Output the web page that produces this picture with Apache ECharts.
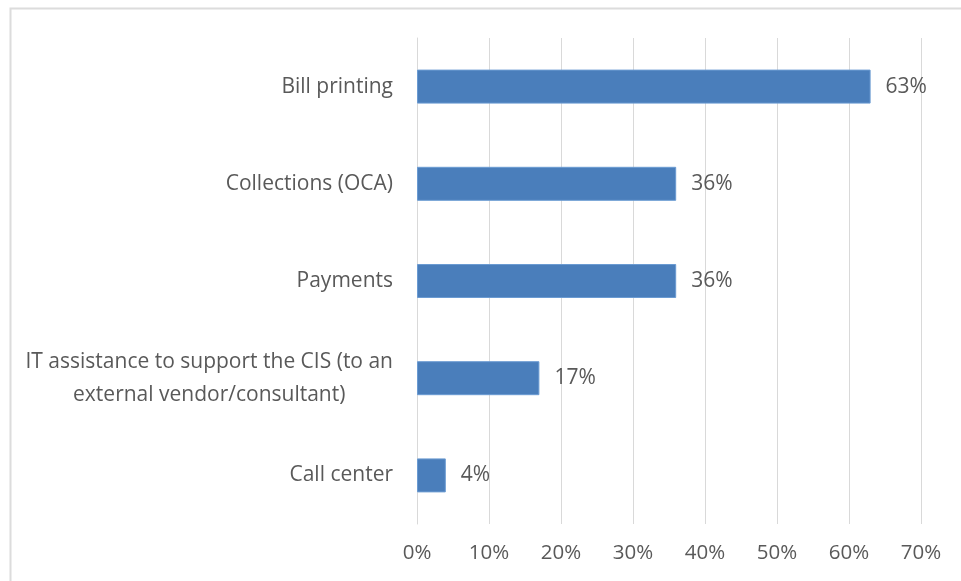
<!DOCTYPE html>
<html>
<head>
<meta charset="utf-8">
<script src="https://cdn.jsdelivr.net/npm/echarts@6/dist/echarts.min.js"></script>
<style>
  html, body { margin: 0; padding: 0; background: #ffffff; }
  #chart { width: 961px; height: 581px; }
</style>
</head>
<body>
<div id="chart"></div>
<script>
// Outsourced functions, share of respondents (%)
const categories = [
  'Bill printing',
  'Collections (OCA)',
  'Payments',
  'IT assistance to support the CIS (to an\nexternal vendor/consultant)',
  'Call center'
];
const values = [63, 36, 36, 17, 4];
const tickMin = 0;
const tickMax = 70;
const tickStep = 10;

const FONT = '"Open Sans", "Liberation Sans", sans-serif';
const TEXT = '#595959';

const chart = echarts.init(document.getElementById('chart'));
chart.setOption({
  animation: false,
  backgroundColor: '#ffffff',
  textStyle: { fontFamily: FONT },
  graphic: [{
    type: 'rect',
    left: 8,
    top: 6,
    shape: { width: 1000, height: 1000 },
    style: { fill: 'none', stroke: '#dcdcdc', lineWidth: 2 },
    silent: true,
    z: -1
  }],
  grid: { left: 417, right: 40, top: 38, bottom: 57, containLabel: false },
  xAxis: {
    type: 'value',
    min: tickMin,
    max: tickMax,
    interval: tickStep,
    axisLine: { show: false },
    axisTick: { show: false },
    splitLine: { show: true, lineStyle: { color: '#d9d9d9', width: 1 } },
    axisLabel: {
      formatter: '{value}%',
      color: TEXT,
      fontFamily: FONT,
      fontSize: 20.5,
      margin: 19
    }
  },
  yAxis: {
    type: 'category',
    data: categories,
    inverse: true,
    axisLine: { show: true, lineStyle: { color: '#d9d9d9', width: 1 } },
    axisTick: { show: false },
    axisLabel: {
      margin: 24,
      formatter: function (v) {
        return v.split('\n').map(function (line) { return '{c|' + line + '}'; }).join('\n');
      },
      rich: {
        c: {
          align: 'center',
          color: TEXT,
          fontFamily: FONT,
          fontSize: 21,
          lineHeight: 33
        }
      }
    }
  },
  series: [{
    type: 'bar',
    data: values,
    barWidth: 34,
    itemStyle: { color: '#4a7ebb', borderColor: '#6b9bd2', borderWidth: 1 },
    label: {
      show: true,
      position: 'right',
      distance: 15,
      formatter: '{c}%',
      color: TEXT,
      fontFamily: FONT,
      fontSize: 21
    }
  }]
});
</script>
</body>
</html>
